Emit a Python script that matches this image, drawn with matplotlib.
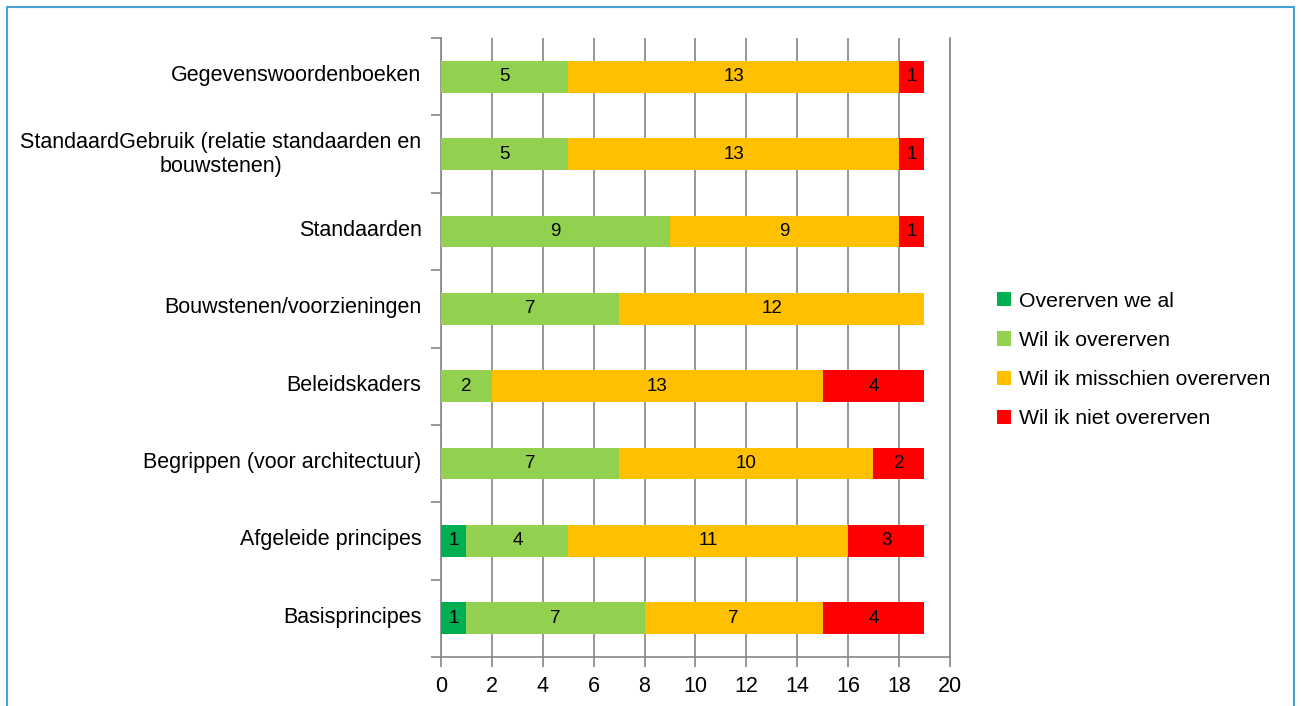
import matplotlib.pyplot as plt
import matplotlib.transforms as mtransforms
import numpy as np
from matplotlib.patches import Rectangle

plt.rcParams['font.family'] = ['Liberation Sans', 'DejaVu Sans']

# categorieen van onder naar boven
categorieen = ["Basisprincipes", "Afgeleide principes", "Begrippen (voor architectuur)",
               "Beleidskaders", "Bouwstenen/voorzieningen", "Standaarden",
               "StandaardGebruik (relatie standaarden en\nbouwstenen)", "Gegevenswoordenboeken"]
reeksen = ["Overerven we al", "Wil ik overerven", "Wil ik misschien overerven",
           "Wil ik niet overerven"]
overerven_we_al = [1, 1, 0, 0, 0, 0, 0, 0]
wil_ik = [7, 4, 7, 2, 7, 9, 5, 5]
misschien = [7, 11, 10, 13, 12, 9, 13, 13]
niet = [4, 3, 2, 4, 0, 1, 1, 1]
kleuren = ["#00B050", "#92D050", "#FFC000", "#FF0000"]

fig = plt.figure(figsize=(13.01, 7.06), dpi=100)
ax = fig.add_axes([0.339, 0.0694, 0.391, 0.8766])

y = np.arange(len(categorieen))
links = np.zeros(len(categorieen))
for naam, waarden, kleur in zip(reeksen, [overerven_we_al, wil_ik, misschien, niet], kleuren):
    waarden = np.array(waarden)
    ax.barh(y, waarden, left=links, height=0.41, color=kleur, label=naam, zorder=3)
    for yi, l, w in zip(y, links, waarden):
        if w > 0:
            ax.text(l + w / 2, yi, str(w), ha='center', va='center', fontsize=13.5, zorder=4)
    links = links + waarden

ax.set_xlim(0, 20)
ax.set_ylim(-0.5, len(categorieen) - 0.5)
ax.set_xticks(range(0, 21, 2))
ax.set_yticks(y)
ax.set_yticklabels(categorieen, fontsize=15.5, multialignment='center')
ax.tick_params(axis='y', length=0, pad=14)
ax.set_yticks(np.arange(-0.5, len(categorieen)), minor=True)
ax.tick_params(axis='y', which='minor', length=7, color='#868686', width=1.2)
ax.tick_params(axis='x', labelsize=15.5, length=7, color='#868686', width=1.2, pad=7)
ax.grid(axis='x', color='#868686', linewidth=1.2, zorder=0)
ax.spines['top'].set_visible(False)
for kant in ['left', 'bottom', 'right']:
    ax.spines[kant].set_color('#868686')
    ax.spines[kant].set_linewidth(1.2)

# labels iets omhoog schuiven
omhoog = mtransforms.ScaledTranslation(0, 2.5 / 72, fig.dpi_scale_trans)
for lbl in ax.get_yticklabels():
    lbl.set_transform(lbl.get_transform() + omhoog)

fig.legend(loc='center left', bbox_to_anchor=(0.752, 0.49), frameon=False, fontsize=15.3,
           handlelength=0.65, handleheight=0.65, handletextpad=0.35, labelspacing=0.95)

# lichtblauwe rand rond de figuur
fig.patches.append(Rectangle((0.005, -0.01), 0.99, 1.0, transform=fig.transFigure,
                             fill=False, edgecolor='#4A9FD5', linewidth=1.5))

fig.savefig('out.png', dpi=100)
